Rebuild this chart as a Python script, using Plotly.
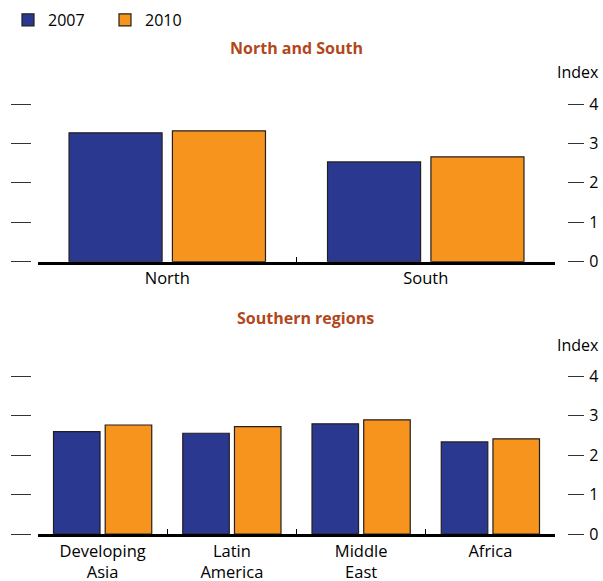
import plotly.graph_objects as go

# ---- data ----
series_names = ["2007", "2010"]
top_categories = ["North", "South"]
top_2007 = [3.27, 2.53]
top_2010 = [3.32, 2.66]

bottom_categories = ["Developing<br>Asia", "Latin<br>America", "Middle<br>East", "Africa"]
bottom_2007 = [2.59, 2.55, 2.79, 2.33]
bottom_2010 = [2.76, 2.72, 2.89, 2.41]

y_ticks = [0, 1, 2, 3, 4]
y_tick_text = ["0", "1", "2", "3", "4"]

# ---- styling ----
W, H = 603, 581
BLUE = "#2B388F"
ORANGE = "#F7941D"
OUTLINE = "#231F20"
TITLE_COLOR = "#B2471C"
FONT = "Open Sans"

def px_x(p):
    return p / W

def px_y(p):
    return 1 - p / H

x_dom = [px_x(38), px_x(555)]
top_dom = [px_y(261.7), px_y(104)]
bot_dom = [px_y(534), px_y(376)]

fig = go.Figure()

colors = [BLUE, ORANGE]
top_vals = [top_2007, top_2010]
bot_vals = [bottom_2007, bottom_2010]
for i, name in enumerate(series_names):
    fig.add_trace(go.Bar(
        x=top_categories, y=top_vals[i], name=name,
        marker=dict(color=colors[i], line=dict(color=OUTLINE, width=1.2)),
        xaxis="x", yaxis="y", showlegend=True, legendgroup=name,
    ))
    fig.add_trace(go.Bar(
        x=bottom_categories, y=bot_vals[i], name=name,
        marker=dict(color=colors[i], line=dict(color=OUTLINE, width=1.2)),
        xaxis="x2", yaxis="y3", showlegend=False, legendgroup=name,
    ))

# invisible helpers so overlay left-tick axes render
fig.add_trace(go.Scatter(x=[], y=[], xaxis="x", yaxis="y2", showlegend=False, hoverinfo="skip"))
fig.add_trace(go.Scatter(x=[], y=[], xaxis="x2", yaxis="y4", showlegend=False, hoverinfo="skip"))

xaxis_common = dict(
    domain=x_dom, showline=True, linecolor="black", linewidth=2.5,
    ticks="inside", tickson="boundaries", ticklen=5, tickwidth=1, tickcolor="black",
    tickfont=dict(family=FONT, size=16.5, color="black"), showgrid=False, zeroline=False,
    fixedrange=True, automargin=False,
)
right_y = dict(
    range=[0, 4], tickvals=y_ticks, ticktext=y_tick_text, side="right", anchor="free",
    position=px_x(567), ticks="outside", ticklen=16, tickwidth=1, tickcolor="#333333",
    showline=False, showgrid=False, zeroline=False, automargin=False,
    tickfont=dict(family=FONT, size=16, color="black"), ticklabelstandoff=2,
)
left_y = dict(
    range=[0, 4], tickvals=y_ticks, side="left", anchor="free", position=px_x(31),
    ticks="outside", ticklen=20, tickwidth=1, tickcolor="#333333", automargin=False,
    showticklabels=False, showline=False, showgrid=False, zeroline=False,
)

fig.update_layout(
    width=W, height=H,
    margin=dict(l=0, r=0, t=0, b=0, autoexpand=False),
    paper_bgcolor="white", plot_bgcolor="rgba(0,0,0,0)",
    barmode="group", bargap=0.2, bargroupgap=0.1,
    font=dict(family=FONT, size=16, color="black"),
    xaxis=dict(anchor="y", **xaxis_common),
    xaxis2=dict(anchor="y3", **xaxis_common),
    yaxis=dict(domain=top_dom, **right_y),
    yaxis2=dict(domain=top_dom, overlaying="y", **left_y),
    yaxis3=dict(domain=bot_dom, **right_y),
    yaxis4=dict(domain=bot_dom, overlaying="y3", **left_y),
    legend=dict(orientation="h", x=px_x(8), y=px_y(3), xanchor="left", yanchor="top",
                font=dict(family=FONT, size=16, color="black"), itemwidth=30,
                entrywidth=52, entrywidthmode="pixels",
                traceorder="normal", bgcolor="rgba(0,0,0,0)"),
    showlegend=True,
)

annotations = [
    dict(text="<b>North and South</b>", x=px_x(296), y=px_y(48), xref="paper", yref="paper",
         showarrow=False, font=dict(family=FONT, size=16, color=TITLE_COLOR), xanchor="center", yanchor="middle"),
    dict(text="<b>Southern regions</b>", x=px_x(305), y=px_y(318), xref="paper", yref="paper",
         showarrow=False, font=dict(family=FONT, size=16, color=TITLE_COLOR), xanchor="center", yanchor="middle"),
    dict(text="Index", x=px_x(601), y=px_y(72), xref="paper", yref="paper",
         showarrow=False, font=dict(family=FONT, size=16, color="black"), xanchor="right", yanchor="middle"),
    dict(text="Index", x=px_x(601), y=px_y(345), xref="paper", yref="paper",
         showarrow=False, font=dict(family=FONT, size=16, color="black"), xanchor="right", yanchor="middle"),
]
fig.update_layout(annotations=annotations)

fig.write_html(
    "out.html",
    config={"displayModeBar": False},
    post_script="document.body.style.margin='0';document.body.style.overflow='hidden';",
)
